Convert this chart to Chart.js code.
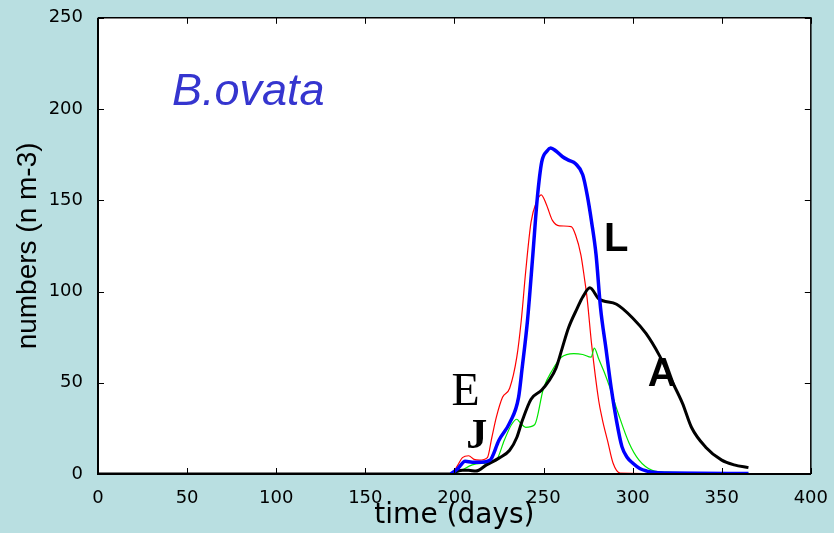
<!DOCTYPE html>
<html>
<head>
<meta charset="utf-8">
<script src="https://cdn.jsdelivr.net/npm/chart.js@4.4.1/dist/chart.umd.min.js"></script>
<style>
  html, body { margin: 0; padding: 0; background: #b9dfe1; }
  #wrap { width: 834px; height: 533px; position: relative; }
</style>
</head>
<body>
<div id="wrap"><canvas id="chart"></canvas></div>
<script>
// time axis ticks and value axis ticks
const xTicks = [0, 50, 100, 150, 200, 250, 300, 350, 400];
const yTicks = [0, 50, 100, 150, 200, 250];

// L - larvae (blue)
const larvaeDays = [198, 202, 206, 210, 215, 220, 225, 231, 236, 238, 241, 244, 246.5, 249, 252, 254, 257, 260.5, 264, 268, 272, 274.5, 277, 279.5, 282, 285, 288, 291, 294, 297, 300, 304, 308, 313, 320, 365];
const larvae = [0, 3, 7, 6.5, 6.5, 7.6, 18.5, 28, 42, 58, 84, 120, 151, 171, 177, 178.6, 177, 174, 172, 170, 164, 153, 138, 120, 91, 69, 47, 29, 15, 9, 6, 3, 1.6, 0.8, 0.5, 0.3];

// E - eggs (red)
const eggDays = [199, 202, 204.5, 208, 211, 214, 218.5, 221, 223.5, 227, 231, 235, 237.5, 240, 243, 246, 248.7, 251.5, 255, 259, 265.5, 268, 271, 273, 274.5, 277, 281, 283, 286, 289, 293, 365];
const eggs = [0, 5, 9, 10, 8, 7.6, 9, 20, 31, 42, 47, 64, 84, 111, 138, 149, 153, 148, 139, 136, 135.6, 131, 120, 107, 96, 71, 40, 30, 18, 6, 0.5, 0];

// J - juveniles (green)
const juvDays = [199, 203, 210, 218, 223.5, 228, 232, 235, 237, 240, 245, 250, 255, 260, 267, 272, 276.7, 278.5, 281, 284, 287, 292, 298, 303.6, 311, 319, 365];
const juveniles = [0, 1.5, 5, 6, 7.6, 18.5, 27, 30, 28, 25.6, 27, 47, 57, 64, 66, 65.5, 64, 69, 63, 56, 48, 33, 17, 7.6, 2, 1, 0.5];

// A - adults (black)
const adultDays = [0, 198, 200, 204.5, 208, 212, 218, 225, 231, 235, 238, 243, 249, 253, 257, 260.5, 264, 269, 272, 276, 281, 291, 300, 307.5, 315, 322, 328, 333, 341, 350, 357, 365];
const adults = [0, 0, 1, 2, 2, 1.6, 5, 8.7, 13, 20, 29, 41, 46, 51, 58, 69, 80, 91, 97, 102, 96, 93, 85.5, 77, 65, 51, 38.7, 25.6, 14.7, 7.6, 5, 3.5];

// labels placed in data coordinates
const notes = [
    { text: 'B.ovata', x: 41.5, y: 202, font: 'italic 45px "Liberation Sans", Arial, sans-serif', color: '#3535cf' },
    { text: 'L', x: 284, y: 122, font: 'bold 40px "Liberation Sans", Arial, sans-serif', color: '#000' },
    { text: 'A', x: 308.5, y: 48, font: 'bold 40px "Liberation Sans", Arial, sans-serif', color: '#000' },
    { text: 'E', x: 198.3, y: 37.6, font: '46px "Liberation Serif", "Times New Roman", serif', color: '#000' },
    { text: 'J', x: 206.7, y: 14, font: 'bold 42px "Liberation Serif", "Times New Roman", serif', color: '#000' }
];

function pairs(xs, ys) {
    return xs.map((x, i) => ({ x: x, y: ys[i] }));
}

const framePlugin = {
    id: 'frame',
    beforeDraw(chart) {
        const { ctx, chartArea: a } = chart;
        ctx.save();
        ctx.fillStyle = '#b9dfe1';
        ctx.fillRect(0, 0, chart.width, chart.height);
        ctx.fillStyle = '#ffffff';
        ctx.fillRect(a.left, a.top, a.right - a.left, a.bottom - a.top);
        ctx.restore();
    },
    afterDatasetsDraw(chart) {
        const { ctx, chartArea: a, scales } = chart;
        const xs = scales.x, ys = scales.y;
        ctx.save();
        ctx.strokeStyle = '#000';
        ctx.lineWidth = 1;
        const tl = 6;
        ctx.beginPath();
        xTicks.forEach(v => {
            const px = Math.round(xs.getPixelForValue(v)) + 0.5;
            ctx.moveTo(px, a.bottom); ctx.lineTo(px, a.bottom - tl);
            ctx.moveTo(px, a.top); ctx.lineTo(px, a.top + tl);
        });
        yTicks.forEach(v => {
            const py = Math.round(ys.getPixelForValue(v)) + 0.5;
            ctx.moveTo(a.left, py); ctx.lineTo(a.left + tl, py);
            ctx.moveTo(a.right, py); ctx.lineTo(a.right - tl, py);
        });
        ctx.stroke();

        ctx.lineWidth = 2;
        ctx.beginPath();
        ctx.moveTo(a.left, a.top); ctx.lineTo(a.left, a.bottom); ctx.lineTo(a.right, a.bottom);
        ctx.stroke();
        ctx.lineWidth = 1.5;
        ctx.beginPath();
        ctx.moveTo(a.left, a.top); ctx.lineTo(a.right, a.top); ctx.lineTo(a.right, a.bottom);
        ctx.stroke();

        ctx.textBaseline = 'alphabetic';
        ctx.textAlign = 'left';
        notes.forEach(n => {
            ctx.font = n.font;
            ctx.fillStyle = n.color;
            ctx.fillText(n.text, xs.getPixelForValue(n.x), ys.getPixelForValue(n.y));
        });
        ctx.restore();
    }
};

const ctx = document.getElementById('chart').getContext('2d');
const chart = new Chart(ctx, {
    type: 'line',
    data: {
        datasets: [
            {
                label: 'L',
                data: pairs(larvaeDays, larvae),
                borderColor: '#0000ff',
                borderWidth: 3.5,
                order: 0
            },
            {
                label: 'A',
                data: pairs(adultDays, adults),
                borderColor: '#000000',
                borderWidth: 3,
                order: 1
            },
            {
                label: 'J',
                data: pairs(juvDays, juveniles),
                borderColor: '#00e600',
                borderWidth: 1.2,
                order: 2
            },
            {
                label: 'E',
                data: pairs(eggDays, eggs),
                borderColor: '#ff0000',
                borderWidth: 1.2,
                order: 3
            }
        ]
    },
    options: {
        responsive: true,
        maintainAspectRatio: false,
        animation: false,
        elements: {
            point: { radius: 0 },
            line: { cubicInterpolationMode: 'monotone' }
        },
        layout: {
            padding: { left: 0, right: 22, top: 15, bottom: 0 }
        },
        plugins: {
            legend: { display: false },
            tooltip: { enabled: false }
        },
        scales: {
            x: {
                type: 'linear',
                min: 0,
                max: 400,
                afterFit(scale) { scale.height = 59; },
                afterBuildTicks(scale) { scale.ticks = xTicks.map(v => ({ value: v })); },
                grid: { display: false },
                border: { display: false },
                ticks: {
                    color: '#000',
                    padding: 6,
                    maxRotation: 0,
                    font: { family: '"DejaVu Sans", sans-serif', size: 18 }
                },
                title: {
                    display: true,
                    text: 'time (days)',
                    color: '#000',
                    padding: { top: 0, bottom: 0 },
                    font: { family: '"DejaVu Sans", sans-serif', size: 28 }
                }
            },
            y: {
                min: 0,
                max: 250,
                afterFit(scale) { scale.width = 98; },
                afterBuildTicks(scale) { scale.ticks = yTicks.map(v => ({ value: v })); },
                grid: { display: false },
                border: { display: false },
                ticks: {
                    color: '#000',
                    padding: 7,
                    font: { family: '"DejaVu Sans", sans-serif', size: 18 }
                },
                title: {
                    display: true,
                    text: 'numbers (n m-3)',
                    color: '#000',
                    padding: { top: 11, bottom: 0 },
                    font: { family: '"Liberation Sans", Arial, sans-serif', size: 28 }
                }
            }
        }
    },
    plugins: [framePlugin]
});
</script>
</body>
</html>
